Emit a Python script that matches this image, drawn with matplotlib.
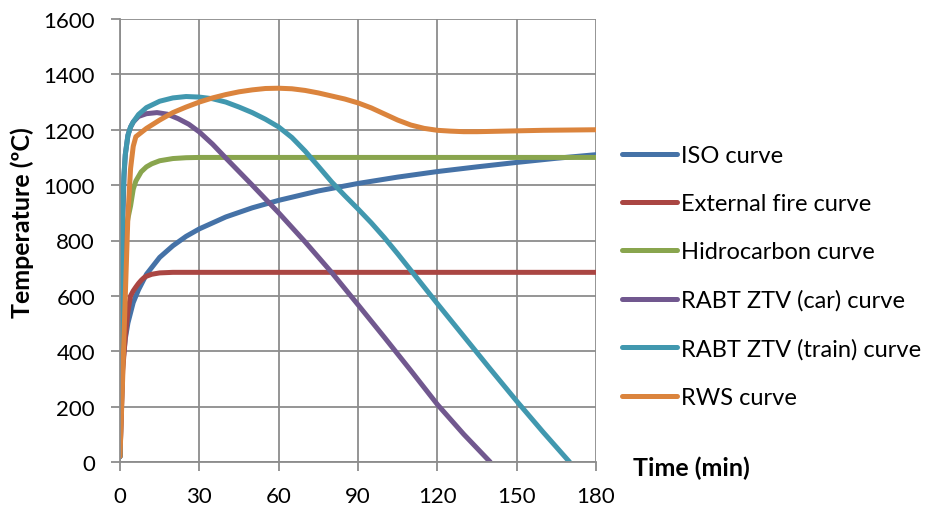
import matplotlib
matplotlib.use("Agg")
import matplotlib.pyplot as plt

# values (time in min, temperature in degC)
iso_t = [0, 1, 2, 3, 5, 7, 10, 15, 20, 25, 30, 40, 50, 60, 75, 90, 105, 120, 135, 150, 165, 180]
iso_T = [20, 349, 445, 502, 576, 622, 678, 739, 781, 815, 842, 885, 918, 945, 979, 1006, 1029, 1049, 1066, 1082, 1097, 1110]

ext_t = [0, 1, 2, 3, 4, 5, 6, 7, 8, 9, 10, 12, 15, 20, 180]
ext_T = [20, 330, 450, 545, 600, 618, 632, 645, 656, 665, 671, 678, 683, 685, 685]

hc_t = [0, 0.5, 1, 2, 3, 4, 5, 6, 8, 10, 12, 15, 20, 25, 30, 180]
hc_T = [20, 400, 650, 820, 880, 925, 985, 1015, 1048, 1066, 1077, 1088, 1096, 1099, 1100, 1100]

car_t = [0, 0.5, 1, 1.5, 2, 3, 4, 5, 7, 10, 14, 18, 22, 26, 30, 35, 40, 50, 60, 70, 80, 90, 100, 110, 120, 130, 140]
car_T = [20, 500, 850, 1030, 1110, 1180, 1210, 1228, 1248, 1258, 1262, 1256, 1240, 1220, 1192, 1148, 1098, 1000, 900,
         795, 685, 568, 450, 330, 208, 100, 0]

train_t = [0, 0.5, 1, 1.5, 2, 3, 4, 5, 7, 10, 15, 20, 25, 30, 35, 40, 45, 50, 55, 60, 65, 70, 75, 80, 85, 90,
           95, 100, 105, 110, 115, 120, 130, 140, 150, 160, 170]
train_T = [20, 600, 900, 1040, 1110, 1180, 1210, 1228, 1255, 1280, 1303, 1315, 1320, 1318, 1312, 1300, 1282, 1262,
           1238, 1210, 1172, 1123, 1068, 1012, 962, 914, 864, 810, 752, 692, 632, 572, 454, 336, 220, 108, 0]

rws_t = [0, 1, 2, 3, 4, 5, 6, 8, 10, 15, 20, 25, 30, 35, 40, 45, 50, 55, 60, 65, 70, 75, 80, 85, 90, 95, 100,
         105, 110, 115, 120, 125, 130, 135, 140, 150, 160, 170, 180]
rws_T = [20, 300, 600, 890, 1060, 1140, 1175, 1190, 1205, 1235, 1262, 1282, 1300, 1315, 1327, 1337, 1344, 1349,
         1350, 1348, 1342, 1333, 1322, 1311, 1297, 1279, 1257, 1235, 1217, 1205, 1198, 1195, 1193, 1193, 1194,
         1196, 1198, 1199, 1200]

series = [
    ("ISO curve", iso_t, iso_T, "#4572A7"),
    ("External fire curve", ext_t, ext_T, "#AA4643"),
    ("Hidrocarbon curve", hc_t, hc_T, "#89A54E"),
    ("RABT ZTV (car) curve", car_t, car_T, "#71588F"),
    ("RABT ZTV (train) curve", train_t, train_T, "#4198AF"),
    ("RWS curve", rws_t, rws_T, "#DB843D"),
]

x_ticks = [0, 30, 60, 90, 120, 150, 180]
y_ticks = [0, 200, 400, 600, 800, 1000, 1200, 1400, 1600]

plt.rcParams["font.family"] = ["Lato", "DejaVu Sans"]
GRID = "#8C8C8C"

fig = plt.figure(figsize=(9.25, 5.1), dpi=100)
ax = fig.add_axes([120 / 925, 47 / 510, 476 / 925, 443 / 510])

for label, t, T, color in series:
    ax.plot(t, T, color=color, lw=3.6, label=label, solid_capstyle="round",
            solid_joinstyle="round")

ax.set_xlim(0, 180)
ax.set_ylim(0, 1600)
ax.set_xticks(x_ticks)
ax.set_yticks(y_ticks)
ax.grid(True, color=GRID, lw=1.3)
ax.set_axisbelow(True)
for s in ("top", "right"):
    ax.spines[s].set_visible(False)
for s in ("left", "bottom"):
    ax.spines[s].set_color(GRID)
    ax.spines[s].set_linewidth(1.3)
ax.tick_params(axis="y", direction="out", length=6.5, width=1.3, color=GRID,
               labelsize=16, pad=11.5)
ax.tick_params(axis="x", direction="out", length=6.5, width=1.3, color=GRID,
               labelsize=16, pad=10.5)

fig.text(22 / 925, 1 - 223 / 510, "Temperature (ºC)", rotation=90,
         ha="center", va="center", fontsize=18, fontweight="bold")
fig.text(633 / 925, 1 - 468 / 510, "Time (min)", ha="left", va="center",
         fontsize=18, fontweight="bold")

ax.legend(loc="center left", bbox_to_anchor=(622 / 925, 1 - 277.5 / 510),
          bbox_transform=fig.transFigure, frameon=False, fontsize=17,
          handlelength=2.33, handletextpad=0.17, labelspacing=1.15,
          borderpad=0, borderaxespad=0)

fig.savefig("out.png", dpi=100)
